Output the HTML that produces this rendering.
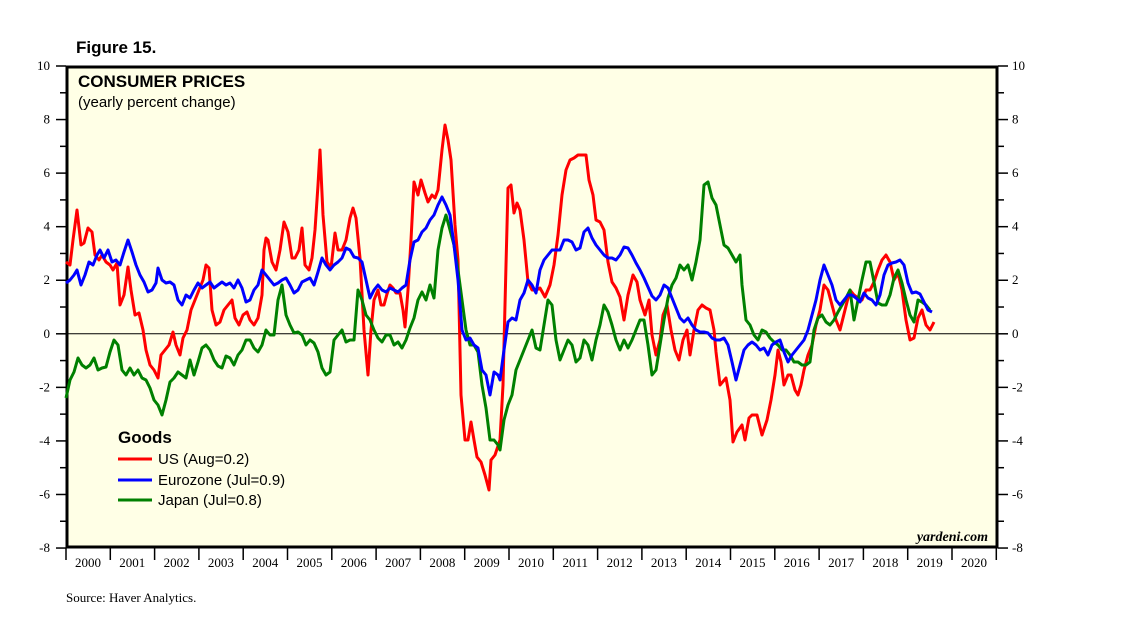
<!DOCTYPE html>
<html><head><meta charset="utf-8"><style>
body{margin:0;background:#fff;}
svg{display:block}
</style></head><body>
<svg width="1138" height="635" xmlns="http://www.w3.org/2000/svg">
<text x="76" y="53" font-family="Liberation Sans,sans-serif" font-weight="bold" font-size="17">Figure 15.</text>
<rect x="67" y="67" width="930" height="480" fill="#ffffe6" stroke="#000" stroke-width="3"/>
<g id="ticks" stroke="#000" stroke-width="1.5"></g>
<g font-family="Liberation Serif,serif" font-size="13" id="lbls"></g>
<line x1="67" y1="333.8" x2="997" y2="333.8" stroke="#000" stroke-width="1"/>
<text x="78" y="87" font-family="Liberation Sans,sans-serif" font-weight="bold" font-size="17">CONSUMER PRICES</text>
<text x="78" y="107" font-family="Liberation Sans,sans-serif" font-size="15">(yearly percent change)</text>
<polyline fill="none" stroke="#ff0000" stroke-width="3" stroke-linejoin="round" points="66,262 70,265 73,240 77,210 81,245 84,243 88,228 92,232 95,255 99,260 102,255 106,262 110,265 113,270 117,263 120,305 124,295 128,267 131,290 135,315 139,313 143,330 146,350 150,365 154,370 158,378 161,355 165,350 169,345 173,332 176,345 180,355 183,338 187,330 191,310 195,300 199,290 203,280 206,265 209,268 212,310 216,325 220,322 224,310 228,305 232,300 235,318 239,325 243,315 247,312 250,320 254,325 258,318 262,295 264,250 266,238 268,240 272,262 276,270 280,250 284,222 288,232 292,258 295,258 299,250 302,228 305,265 309,270 312,258 315,230 318,185 320,150 323,215 327,262 331,268 335,233 338,250 342,250 346,240 350,218 353,208 356,218 360,258 364,330 368,375 371,330 374,300 378,290 381,305 384,305 387,294 390,285 393,288 396,293 400,293 403,310 405,327 408,290 411,240 414,182 418,195 421,180 425,193 428,202 432,195 435,198 438,190 442,150 445,125 448,140 451,160 455,225 458,260 461,395 465,440 468,440 471,422 474,440 477,457 481,462 485,475 489,490 491,460 495,455 500,440 503,385 506,265 508,188 511,185 514,213 517,203 520,210 524,240 528,282 532,290 536,290 540,288 545,297 550,285 554,265 558,235 562,195 566,170 570,160 574,158 578,155 582,155 586,155 589,180 593,195 596,220 600,222 604,230 608,262 612,282 616,288 620,297 624,320 628,295 633,275 637,282 640,300 645,315 649,300 652,335 656,355 660,340 663,315 667,305 671,330 675,350 679,360 683,340 687,330 690,355 694,330 698,310 702,305 706,308 710,310 714,330 716,352 720,385 726,378 730,400 733,442 737,432 742,425 745,440 749,418 752,415 757,415 762,435 767,420 771,400 775,375 778,350 781,362 784,385 788,375 791,375 795,390 798,395 801,385 804,370 808,355 812,345 816,325 820,310 824,285 828,290 832,305 836,320 840,330 845,310 850,290 854,295 858,298 862,300 866,290 870,290 874,282 878,270 882,260 886,255 890,262 894,280 898,273 902,290 906,320 910,340 914,338 918,318 922,310 926,325 930,330 934,322"/>
<polyline fill="none" stroke="#008000" stroke-width="3" stroke-linejoin="round" points="66,398 70,380 74,372 78,358 82,365 86,368 90,365 94,358 98,370 102,368 106,367 110,352 114,340 118,345 122,370 126,375 130,368 134,375 138,370 142,378 146,380 150,388 154,400 158,405 162,415 166,400 170,382 174,378 178,372 182,375 186,378 190,360 194,375 198,362 202,348 206,345 210,350 214,360 218,366 222,368 226,356 230,358 234,365 238,355 242,350 246,340 250,340 254,348 258,352 262,345 266,330 270,335 274,335 278,300 282,285 286,315 290,325 294,333 298,332 302,335 306,345 310,340 314,343 318,352 322,368 326,375 330,372 334,340 338,335 342,330 346,342 350,340 354,340 358,290 362,300 366,315 370,320 374,330 378,338 382,342 386,335 390,335 394,345 398,342 402,348 406,340 410,328 414,318 418,300 422,292 426,300 430,285 434,298 438,250 442,228 446,215 450,230 454,245 458,270 462,300 466,330 470,345 474,345 478,352 482,385 486,408 490,440 494,440 498,445 500,450 504,420 508,405 512,395 516,370 520,360 524,350 528,340 532,330 536,348 540,350 544,325 548,300 552,305 556,340 560,360 564,350 568,340 572,345 576,362 580,358 584,340 588,345 592,360 596,340 600,325 604,305 608,312 612,325 616,340 620,350 624,340 628,348 632,340 636,330 640,320 644,320 648,345 652,375 656,370 660,345 664,320 668,298 672,285 676,278 680,265 684,270 688,265 692,280 696,262 700,240 704,185 708,182 712,198 716,205 720,225 724,245 728,248 732,255 736,262 740,255 742,285 746,320 750,325 754,335 758,340 762,330 766,332 770,338 774,342 778,345 782,350 786,350 790,355 794,362 798,362 802,365 806,365 810,362 814,330 818,318 822,315 826,322 830,325 834,320 838,312 842,305 846,298 850,290 854,320 858,300 862,280 866,262 870,262 874,282 878,303 882,305 886,305 890,295 894,278 898,270 902,283 906,300 910,315 914,322 918,300 922,302 926,305 930,310"/>
<polyline fill="none" stroke="#0000ff" stroke-width="3" stroke-linejoin="round" points="66,283 70,280 74,275 77,270 81,285 85,275 89,262 93,265 97,255 100,250 104,258 108,250 112,262 116,260 120,265 124,252 128,240 132,252 136,265 140,275 144,282 148,292 152,290 156,283 158,268 162,280 166,283 170,282 174,285 178,300 182,305 186,295 190,298 194,290 198,283 202,288 206,285 210,282 214,288 218,285 222,282 226,285 230,283 234,288 238,280 242,288 246,302 250,300 254,290 258,285 262,270 266,275 270,280 274,285 278,283 282,280 286,278 290,285 294,293 298,290 302,282 306,280 310,278 314,285 318,272 322,258 326,265 330,270 334,265 338,262 342,258 346,248 350,250 354,257 358,258 362,262 366,280 370,298 374,290 378,285 382,290 386,292 390,288 394,290 398,292 402,288 406,285 410,260 414,242 418,240 422,232 426,228 430,220 434,215 438,205 442,197 446,205 450,215 454,245 458,280 462,330 466,340 470,338 474,345 478,348 482,370 486,375 490,395 494,372 498,375 500,380 504,350 508,322 512,318 516,320 520,300 524,293 528,280 532,285 536,293 540,270 544,260 548,255 552,250 556,250 560,250 564,240 568,240 572,242 576,250 580,248 584,232 588,228 592,238 596,245 600,250 604,255 608,258 612,258 616,260 620,255 624,247 628,248 632,255 636,263 640,270 644,278 648,287 652,296 656,300 660,295 664,285 668,288 672,298 676,308 680,318 684,322 688,318 692,325 696,330 700,332 704,332 708,333 712,338 716,340 720,340 724,338 728,345 732,362 736,380 740,365 744,350 748,345 752,342 756,345 760,350 764,348 768,355 772,345 776,342 780,340 784,352 788,362 792,355 796,350 800,345 804,340 808,330 812,315 816,300 820,280 824,265 828,275 832,285 836,300 840,305 844,300 848,295 852,295 856,298 860,302 864,293 868,298 872,300 876,305 880,295 884,275 888,265 892,263 896,262 900,260 904,265 908,283 912,293 916,292 920,294 924,302 928,310 932,312"/>
<text x="118" y="443" font-family="Liberation Sans,sans-serif" font-weight="bold" font-size="17">Goods</text>
<line x1="118" y1="459" x2="152" y2="459" stroke="#ff0000" stroke-width="3"/>
<line x1="118" y1="480" x2="152" y2="480" stroke="#0000ff" stroke-width="3"/>
<line x1="118" y1="500" x2="152" y2="500" stroke="#008000" stroke-width="3"/>
<g font-family="Liberation Sans,sans-serif" font-size="15">
<text x="158" y="464">US (Aug=0.2)</text>
<text x="158" y="485">Eurozone (Jul=0.9)</text>
<text x="158" y="505">Japan (Jul=0.8)</text>
</g>
<text x="988" y="541" text-anchor="end" font-family="Liberation Serif,serif" font-style="italic" font-weight="bold" font-size="14">yardeni.com</text>
<text x="66" y="602" font-family="Liberation Serif,serif" font-size="13">Source: Haver Analytics.</text>
<script>
var t=document.getElementById('ticks'),l=document.getElementById('lbls'),ns='http://www.w3.org/2000/svg';
function ln(a,b,c,d){var e=document.createElementNS(ns,'line');e.setAttribute('x1',a);e.setAttribute('y1',b);e.setAttribute('x2',c);e.setAttribute('y2',d);t.appendChild(e);}
function tx(x,y,s,a){var e=document.createElementNS(ns,'text');e.setAttribute('x',x);e.setAttribute('y',y);if(a)e.setAttribute('text-anchor',a);e.textContent=s;l.appendChild(e);}
for(var v=-8;v<=10;v++){var y=333.8-v*26.78;var maj=(v%2==0);ln(maj?56:60,y,66,y);ln(998,y,maj?1008:1004,y);if(maj){tx(50,y+4,String(v),'end');tx(1012,y+4,String(v));}}
for(var i=0;i<=21;i++){var x=66+i*44.3;ln(x,548,x,560);if(i<21)tx(x+22,567,String(2000+i),'middle');}
</script>
</svg>
</body></html>
